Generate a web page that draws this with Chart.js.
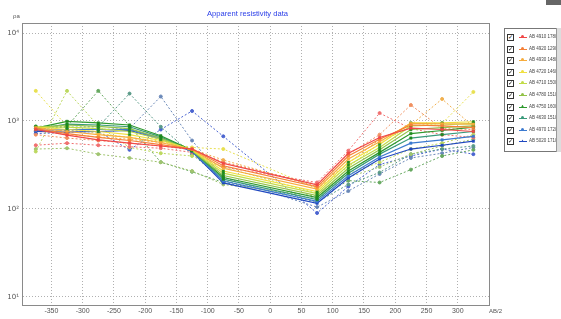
<!DOCTYPE html>
<html><head><meta charset="utf-8">
<script src="https://cdn.jsdelivr.net/npm/chart.js@4.4.1/dist/chart.umd.min.js"></script>
<style>
html,body{margin:0;padding:0;background:#fff;width:561px;height:319px;overflow:hidden;font-family:"Liberation Sans",Arial,sans-serif}
#c{position:absolute;left:0;top:0}
#title{position:absolute;left:207px;top:9px;font-size:7.6px;color:#2a3ee8;white-space:nowrap}
#ylab{position:absolute;left:13px;top:13px;font-size:6px;color:#555}
#xlab{position:absolute;left:489px;top:308px;font-size:6px;color:#555}
#topbar{position:absolute;left:546px;top:0;width:15px;height:5px;background:#666}
#legend{position:absolute;left:504px;top:28px;width:52px;height:122px;border:1px solid #777;background:#fff}
#scroll{position:absolute;left:556px;top:28px;width:4px;height:124px;background:#ddd;border-left:1px solid #999}
.row{position:absolute;left:2px;height:10px;width:50px}
.cb{position:absolute;left:0;top:2px;width:5px;height:5px;border:1px solid #333;background:#fff;font-size:6px;line-height:5px;color:#000;text-align:center;overflow:hidden}
.mk{position:absolute;left:12px;top:5px;width:8px;height:1px}
.dot{position:absolute;left:14px;top:3px;width:3px;height:3px}
.lt{position:absolute;left:22px;top:2px;font-size:4.5px;color:#444;white-space:nowrap}
</style></head>
<body>
<canvas id="c" width="561" height="319"></canvas>
<div id="title">Apparent resistivity data</div>
<div id="ylab">ρa</div>
<div id="xlab">AB/2</div>
<div id="topbar"></div>
<div id="legend"></div>
<div id="scroll"></div>
<script>
// ---- data ----
const xPositions = [-375,-325,-275,-225,-175,-125,-75,75,125,175,225,275,325];
const legendLabels = ["AB 4910 1780","AB 4920 1290","AB 4930 1480","AB 4720 1460","AB 4710 1500","AB 4780 1510","AB 4750 1600","AB 4630 1510","AB 4970 1720","AB 5020 1710"];
const yTickValues = [10,100,1000,10000];
const yTickLabels = ["10\u00B9","10\u00B2","10\u00B3","10\u2074"];
const xTickValues = [-350,-300,-250,-200,-150,-100,-50,0,50,100,150,200,250,300];

// solid sounding curves (red -> blue)
const s0 = [800,690,610,560,520,480,330,188,430,650,830,800,760];
const s1 = [820,720,650,600,540,480,310,178,400,620,900,880,840];
const s2 = [840,760,700,650,570,475,290,168,370,580,940,930,920];
const s3 = [860,800,760,700,600,470,270,158,340,540,950,950,980];
const s4 = [850,850,820,760,620,465,255,150,315,500,880,900,940];
const s5 = [840,900,870,820,640,460,240,142,290,470,800,840,880];
const s6 = [830,990,950,900,680,465,228,135,270,440,720,780,850];
const s7 = [810,920,900,860,660,460,218,128,255,420,640,700,760];
const s8 = [780,800,800,800,640,455,208,122,238,390,560,610,670];
const s9 = [760,750,760,780,620,450,198,116,225,370,480,530,590];

// dashed curves
const d0 = [530,560,530,510,490,440,300,200,460,1230,820,700,650];
const d1 = [700,640,600,560,520,470,340,190,420,700,1520,820,800];
const d2 = [780,700,660,620,570,480,360,180,330,620,900,1780,860];
const d3 = [2200,870,720,650,590,500,480,170,300,560,880,940,2140];
const d4 = [450,2200,880,500,430,400,300,150,250,340,480,560,700];
const d5 = [480,490,420,380,340,270,190,140,230,300,420,520,620];
const d6 = [870,870,2200,880,340,265,200,130,210,200,280,400,470];
const d7 = [820,850,860,2050,860,420,210,120,190,260,420,480,520];
const d8 = [760,780,800,820,1900,600,230,105,160,250,380,430,500];
const d9 = [720,740,760,470,800,1300,670,90,180,320,400,480,420];

const solidColors = ["#f04848","#f58038","#f7ac3c","#f0e040","#c2dc48","#92c248","#2e9a2e","#3a9a7a","#3c7ad0","#2048c0"];
const dashedColors = ["#f07070","#f09060","#f0b050","#e8e050","#bcd860","#a0c470","#66a860","#5a9a88","#6a88b8","#4a64d0"];
const legendMarkers = ["circle","circle","circle","circle","circle","circle","triangle","circle","circle","triangle"];

const solid = [s0,s1,s2,s3,s4,s5,s6,s7,s8,s9];
const dashed = [d0,d1,d2,d3,d4,d5,d6,d7,d8,d9];

const toPts = arr => arr.map((v,i)=>({x:xPositions[i], y:v}));
const datasets = [];
solid.forEach((arr,i)=>{
  datasets.push({label:legendLabels[i], data:toPts(arr), borderColor:solidColors[i], borderWidth:1.2,
    pointStyle:'rect', pointRadius:1.7, pointBackgroundColor:(i>=3&&i<=7)?'#1f8a1f':solidColors[i],
    pointBorderColor:(i>=3&&i<=7)?'#1f8a1f':solidColors[i], pointBorderWidth:0.5, tension:0});
});
dashed.forEach((arr,i)=>{
  datasets.push({label:legendLabels[i]+' b', data:toPts(arr), borderColor:dashedColors[i], borderWidth:1,
    borderDash:[2,2], pointStyle:'circle', pointRadius:1.5, pointBackgroundColor:dashedColors[i],
    pointBorderColor:dashedColors[i], tension:0});
});

const frame = {id:'frame', afterDraw(chart){
  const a=chart.chartArea, c=chart.ctx; c.save(); c.strokeStyle='#8a8a8a'; c.lineWidth=1;
  c.strokeRect(Math.round(a.left)+0.5, Math.round(a.top)+0.5, Math.round(a.right-a.left), Math.round(a.bottom-a.top));
  c.restore();
}};

new Chart(document.getElementById('c'), {
  type:'line',
  data:{datasets},
  plugins:[frame],
  options:{
    responsive:false, animation:false, devicePixelRatio:1,
    layout:{padding:{left:0,top:23,right:72,bottom:0}},
    plugins:{legend:{display:false}, tooltip:{enabled:false}, title:{display:false}},
    scales:{
      x:{type:'linear', min:-397, max:350,
        afterBuildTicks(s){ s.ticks = xTickValues.map(v=>({value:v})); },
        afterFit(s){ s.height = 14; },
        ticks:{font:{size:7, family:'Liberation Sans'}, color:'#555', padding:2, maxRotation:0, autoSkip:false},
        grid:{color:'#b0b0b0', lineWidth:1, drawTicks:false},
        border:{display:true, color:'#8a8a8a', dash:[1,2]}
      },
      y:{type:'logarithmic', min:8.1, max:13000,
        afterBuildTicks(s){ s.ticks = yTickValues.map(v=>({value:v})); },
        afterFit(s){ s.width = 22; },
        ticks:{font:{size:7, family:'DejaVu Sans'}, color:'#555', padding:3,
          callback:(v)=>{ const k=yTickValues.indexOf(v); return k>=0?yTickLabels[k]:''; }},
        grid:{color:'#b0b0b0', lineWidth:1, drawTicks:false},
        border:{display:true, color:'#8a8a8a', dash:[1,2]}
      }
    }
  }
});

// legend
const lg = document.getElementById('legend');
legendLabels.forEach((t,i)=>{
  const r=document.createElement('div'); r.className='row'; r.style.top=(3+i*11.6)+'px';
  const shape = legendMarkers[i]==='triangle' ? 'clip-path:polygon(50% 0,100% 100%,0 100%);' : 'border-radius:50%;';
  r.innerHTML='<div class="cb">\u2713</div><div class="mk" style="background:'+solidColors[i]+'"></div><div class="dot" style="background:'+solidColors[i]+';'+shape+'"></div><div class="lt">'+t+'</div>';
  lg.appendChild(r);
});
</script>
</body></html>
